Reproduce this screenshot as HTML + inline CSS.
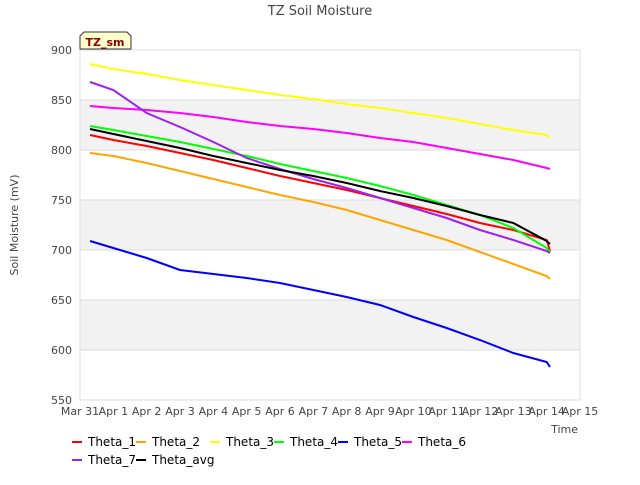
<!DOCTYPE html>
<html><head><meta charset="utf-8"><style>
body{margin:0;background:#fff;font-family:"Liberation Sans","DejaVu Sans",sans-serif}
svg text{font-family:"DejaVu Sans","Liberation Sans",sans-serif}
</style></head><body>
<svg id="chart" width="640" height="480" xmlns="http://www.w3.org/2000/svg">
<rect width="640" height="480" fill="#fff"/>
<text x="320" y="15" text-anchor="middle" font-size="13" fill="#444">TZ Soil Moisture</text>
<g id="bands"></g><g id="grid"></g>
<rect x="80" y="50" width="500" height="350" fill="none" stroke="#ddd"/>
<g id="series"></g><g id="yticks"></g><g id="xticks"></g>
<text transform="translate(18,225) rotate(-90)" text-anchor="middle" font-size="11" fill="#444">Soil Moisture (mV)</text>
<text x="578" y="433" text-anchor="end" font-size="11" fill="#444">Time</text>
<g>
<path d="M84,32 L127,32 L131,36 L131,49 L80,49 L80,36 Z" fill="#ffffcc" stroke="#333"/>
<text x="105" y="46" text-anchor="middle" font-size="11" font-weight="bold" fill="#8b0000">TZ_sm</text>
</g>
<g id="legend"></g>
</svg>
<script>
const days=[0.3,1,2,3,4,5,6,7,8,9,10,11,12,13,14,14.1];
const xTickLabels=["Mar 31","Apr 1","Apr 2","Apr 3","Apr 4","Apr 5","Apr 6","Apr 7","Apr 8","Apr 9","Apr 10","Apr 11","Apr 12","Apr 13","Apr 14","Apr 15"];
const yTicks=[550,600,650,700,750,800,850,900];
const seriesNames=["Theta_1","Theta_2","Theta_3","Theta_4","Theta_5","Theta_6","Theta_7","Theta_avg"];
const seriesColors=["#ff0000","#ffa500","#ffff00","#00ff00","#0000ff","#ff00ff","#a020f0","#000000"];
const theta1=[815,810,804,797,790,782,774,767,760,752,744,736,727,720,710,699];
const theta2=[797,794,787,779,771,763,755,748,740,730,720,710,698,686,674,671];
const theta3=[886,881,876,870,865,860,855,851,846,842,837,832,826,820,815,813];
const theta4=[824,820,814,808,801,794,786,779,772,764,755,745,735,722,702,698];
const theta5=[709,702,692,680,676,672,667,660,653,645,633,622,610,597,588,583];
const theta6=[844,842,840,837,833,828,824,821,817,812,808,802,796,790,782,781];
const theta7=[868,860,837,823,808,792,781,771,762,752,742,732,720,710,699,697];
const thetaAvg=[821,816,809,802,794,787,780,774,767,759,752,744,735,727,709,706];
const allSeries=[theta1,theta2,theta3,theta4,theta5,theta6,theta7,thetaAvg];
const NS="http://www.w3.org/2000/svg";
const xs=d=>80+d*500/15, ys=v=>400-(v-550)*350/350;
function mk(tag,parent){const e=document.createElementNS(NS,tag);document.getElementById(parent).appendChild(e);return e;}
for(let v=600;v<900;v+=100){const r=mk('rect','bands');


r.setAttribute('x',80);r.setAttribute('y',ys(v+50));r.setAttribute('width',500);r.setAttribute('height',ys(v)-ys(v+50));r.setAttribute('fill','#f2f2f2');}
yTicks.forEach(v=>{const l=mk('line','grid');


l.setAttribute('x1',80);l.setAttribute('x2',580);l.setAttribute('y1',ys(v));l.setAttribute('y2',ys(v));l.setAttribute('stroke','#ddd');
const t=mk('text','yticks');


t.setAttribute('x',72);t.setAttribute('y',ys(v)+4);t.setAttribute('text-anchor','end');t.setAttribute('font-size','11');t.setAttribute('fill','#444');t.textContent=v;});
xTickLabels.forEach((s,i)=>{const t=mk('text','xticks');


t.setAttribute('x',xs(i));t.setAttribute('y',415);t.setAttribute('text-anchor','middle');t.setAttribute('font-size','11');t.setAttribute('fill','#444');t.textContent=s;});
allSeries.forEach((arr,i)=>{const p=mk('polyline','series');


p.setAttribute('points',arr.map((v,j)=>xs(days[j])+','+ys(v)).join(' '));p.setAttribute('fill','none');p.setAttribute('stroke',seriesColors[i]);p.setAttribute('stroke-width','2');});
const legX=[88,152,226,290,354,418,88,152], legLX=[72,136,210,274,338,402,72,136];
seriesNames.forEach((n,i)=>{const y=i<6?442:460;
const l=mk('line','legend');


l.setAttribute('x1',legLX[i]);l.setAttribute('x2',legLX[i]+10);l.setAttribute('y1',y);l.setAttribute('y2',y);l.setAttribute('stroke',seriesColors[i]);l.setAttribute('stroke-width','2');
const t=mk('text','legend');


t.setAttribute('x',legX[i]);t.setAttribute('y',y+4);t.setAttribute('font-size','12');t.setAttribute('fill','#000');t.textContent=n;});
</script>
</body></html>
